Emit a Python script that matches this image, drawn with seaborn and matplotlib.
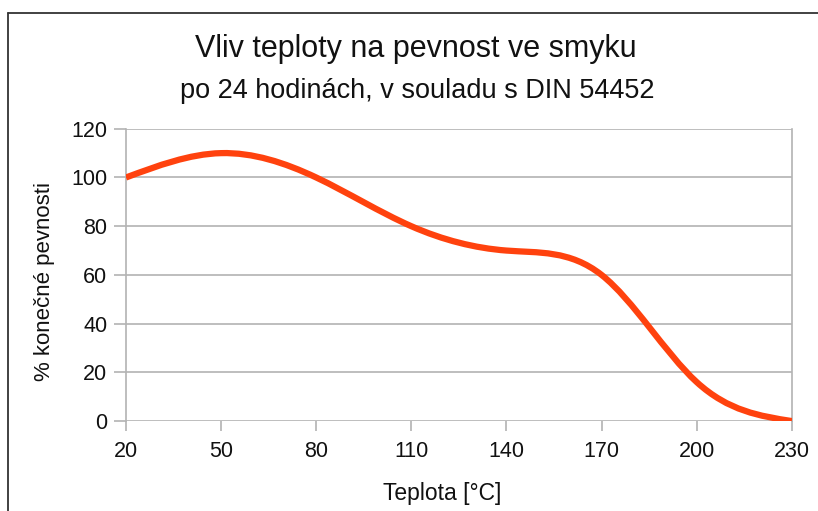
import numpy as np
import matplotlib
matplotlib.use("Agg")
import matplotlib.pyplot as plt
import seaborn as sns
from matplotlib.path import Path
from matplotlib.patches import PathPatch
from matplotlib.lines import Line2D

# data
temperature = [20, 50, 80, 110, 140, 170, 200, 230]
strength = [100, 110, 100, 80, 70, 60, 16, 0]
x_ticks = [20, 50, 80, 110, 140, 170, 200, 230]
y_ticks = [0, 20, 40, 60, 80, 100, 120]

TITLE = "Vliv teploty na pevnost ve smyku"
SUBTITLE = "po 24 hodinách, v souladu s DIN 54452"
LINE_COLOR = "#FF420E"
GRID_COLOR = "#b3b3b3"
TEXT_COLOR = "#111111"

sns.set_style("white")
plt.rcParams["font.family"] = ["Liberation Sans", "DejaVu Sans"]


def spline_path(xs, ys):
    """Natural cubic spline through the points, as cubic Bezier segments."""
    xs = np.asarray(xs, float)
    ys = np.asarray(ys, float)
    n = len(xs)
    h = np.diff(xs)
    A = np.zeros((n, n))
    b = np.zeros(n)
    A[0, 0] = A[-1, -1] = 1
    for i in range(1, n - 1):
        A[i, i - 1] = h[i - 1]
        A[i, i] = 2 * (h[i - 1] + h[i])
        A[i, i + 1] = h[i]
        b[i] = 6 * ((ys[i + 1] - ys[i]) / h[i] - (ys[i] - ys[i - 1]) / h[i - 1])
    M = np.linalg.solve(A, b)
    verts = [(xs[0], ys[0])]
    codes = [Path.MOVETO]
    for i in range(n - 1):
        d = (ys[i + 1] - ys[i]) / h[i]
        m0 = d - h[i] * (2 * M[i] + M[i + 1]) / 6
        m1 = d + h[i] * (M[i] + 2 * M[i + 1]) / 6
        verts += [(xs[i] + h[i] / 3, ys[i] + m0 * h[i] / 3),
                  (xs[i + 1] - h[i] / 3, ys[i + 1] - m1 * h[i] / 3),
                  (xs[i + 1], ys[i + 1])]
        codes += [Path.CURVE4] * 3
    return Path(verts, codes)


fig = plt.figure(figsize=(8.18, 5.11), dpi=100)
ax = fig.add_axes([0.154, 0.176, 0.814, 0.572])

ax.add_patch(PathPatch(spline_path(temperature, strength), facecolor="none",
                       edgecolor=LINE_COLOR, linewidth=4.5, capstyle="butt",
                       zorder=3))

ax.set_xlim(min(x_ticks), max(x_ticks))
ax.set_ylim(min(y_ticks), max(y_ticks))
ax.set_xticks(x_ticks)
ax.set_yticks(y_ticks)
ax.yaxis.grid(True, color=GRID_COLOR, linewidth=1.2)
ax.xaxis.grid(False)
for side in ["top", "bottom"]:
    ax.spines[side].set_visible(False)
for side in ["left", "right"]:
    ax.spines[side].set_color(GRID_COLOR)
    ax.spines[side].set_linewidth(1.2)
ax.tick_params(axis="y", direction="out", length=8.5, width=1.2, color=GRID_COLOR,
               pad=5, labelsize=15.5, labelcolor=TEXT_COLOR, left=True)
ax.tick_params(axis="x", direction="out", length=7, width=1.2, color=GRID_COLOR,
               pad=7, labelsize=15.5, labelcolor=TEXT_COLOR, bottom=True)

fig.text(0.508, 0.905, TITLE, ha="center", va="center", fontsize=22, color=TEXT_COLOR)
fig.text(0.51, 0.822, SUBTITLE, ha="center", va="center", fontsize=19.5, color=TEXT_COLOR)
fig.text(0.54, 0.035, "Teplota [°C]", ha="center", va="center", fontsize=16.5, color=TEXT_COLOR)
fig.text(0.054, 0.45, "% konečné pevnosti", ha="center", va="center", rotation=90,
         fontsize=16, color=TEXT_COLOR)

# frame of the original screenshot (top and left edges)
fig.add_artist(Line2D([0.01, 1.0], [0.974, 0.974], transform=fig.transFigure,
                      color="#333333", linewidth=1.3))
fig.add_artist(Line2D([0.01, 0.01], [0.0, 0.974], transform=fig.transFigure,
                      color="#333333", linewidth=1.3))

fig.savefig("out.png", dpi=100)
